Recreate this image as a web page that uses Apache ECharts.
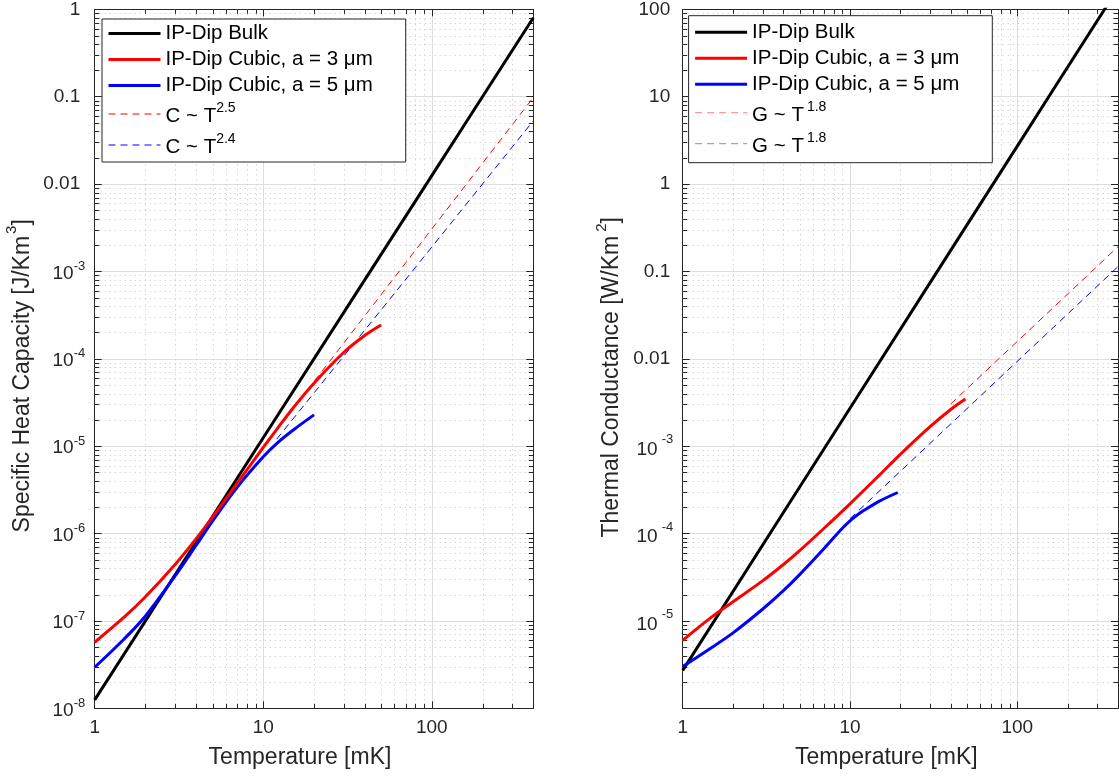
<!DOCTYPE html>
<html>
<head>
<meta charset="utf-8">
<script src="https://cdn.jsdelivr.net/npm/echarts@6/dist/echarts.min.js"></script>
<style>html,body{margin:0;padding:0;background:#fff}#c{width:1119px;height:776px}</style>
</head>
<body>
<div id="c"></div>
<script>
// ---------------- data ----------------
// Left panel: specific heat capacity C [J/K m^3] vs temperature T [mK]
const T_C_BULK = [1, 10, 100, 400];
const C_BULK   = [1.25e-8, 1.25e-5, 1.25e-2, 0.8];
const T_C_A3 = [1, 1.5, 2, 3, 4, 5, 7, 10, 12, 15, 20, 30, 40, 50];
const C_A3   = [5.7e-8, 1.11e-7, 1.89e-7, 4.43e-7, 8.73e-7, 1.54e-6, 3.76e-6, 9.68e-6, 1.55e-5, 2.72e-5, 5.26e-5, 1.18e-4, 1.85e-4, 2.44e-4];
const T_C_A5 = [1, 1.5, 2, 3, 4, 5, 7, 10, 12, 15, 20];
const C_A5   = [2.95e-8, 6.25e-8, 1.14e-7, 3.28e-7, 7.35e-7, 1.39e-6, 3.38e-6, 7.55e-6, 1.07e-5, 1.52e-5, 2.28e-5];
const T_C_FIT3 = [10, 100, 400];
const C_FIT3   = [9.7e-6, 3.06e-3, 0.098];
const T_C_FIT5 = [12, 100, 400];
const C_FIT5   = [1.2e-5, 1.9e-3, 0.053];

// Right panel: thermal conductance G [W/K m^2] vs temperature T [mK]
const T_G_BULK = [1, 10, 100, 400];
const G_BULK   = [2.72e-6, 2.72e-3, 2.72, 174];
const T_G_A3 = [1, 1.5, 2, 3, 4, 5, 7, 10, 15, 20, 30, 40, 49];
const G_A3   = [6.0e-6, 1.12e-5, 1.66e-5, 2.87e-5, 4.42e-5, 6.38e-5, 1.15e-4, 2.19e-4, 4.67e-4, 8.07e-4, 1.66e-3, 2.63e-3, 3.46e-3];
const T_G_A5 = [1, 1.5, 2, 3, 4, 5, 7, 8, 9, 10, 11, 12, 15, 19.3];
const G_A5   = [3.0e-6, 5.0e-6, 7.3e-6, 1.36e-5, 2.22e-5, 3.39e-5, 6.75e-5, 8.99e-5, 1.15e-4, 1.40e-4, 1.62e-4, 1.82e-4, 2.35e-4, 2.95e-4];
const T_G_FIT3 = [40, 100, 400];
const G_FIT3   = [3.04e-3, 1.58e-2, 0.192];
const T_G_FIT5 = [10, 100, 400];
const G_FIT5   = [1.48e-4, 9.35e-3, 0.1135];

// axes / ticks
const X_RANGE = [1, 400];
const C_RANGE = [1e-8, 1];
const G_RANGE = [1e-6, 100];
const X_DECADES = [0, 1, 2];
const C_DECADES = [-8, -7, -6, -5, -4, -3, -2, -1];
const G_DECADES = [-6, -5, -4, -3, -2, -1, 0, 1];
const MINOR_MULT = [2, 3, 4, 5, 6, 7, 8, 9];
const PLAIN_LABELS = {'2': '100', '1': '10', '0': '1', '-1': '0.1', '-2': '0.01'};
const G_HIDDEN_EXP = [-6];

const LEG_C = ['IP-Dip Bulk', 'IP-Dip Cubic, a = 3 μm', 'IP-Dip Cubic, a = 5 μm', 'C ~ T^2.5', 'C ~ T^2.4'];
const LEG_G = ['IP-Dip Bulk', 'IP-Dip Cubic, a = 3 μm', 'IP-Dip Cubic, a = 5 μm', 'G ~ T^1.8 (a = 3 μm)', 'G ~ T^1.8 (a = 5 μm)'];

// ---------------- styling ----------------
const FONT = '"Liberation Sans", Arial, Helvetica, sans-serif';
const AX = '#262626';
const GRID_MAJOR = '#dedede';
const GRID_MINOR = '#c4c4c4';
const RED = '#ff0000', BLUE = '#0000ff', BLACK = '#000000';

function zip(xs, ys) { return xs.map((x, i) => [x, ys[i]]); }
function minorVals(decades, max) {
  const out = [];
  decades.forEach(d => MINOR_MULT.forEach(m => { const v = m * Math.pow(10, d); if (v < max * 0.999) out.push(v); }));
  return out;
}
function isPow10(v) { const e = Math.round(Math.log10(v)); return Math.abs(v / Math.pow(10, e) - 1) < 1e-6 ? e : null; }
function xFmt(v) { const e = isPow10(v); return (e === null || PLAIN_LABELS[e] === undefined) ? '' : PLAIN_LABELS[e]; }
function yFmt(hidden) {
  return function (v) {
    const e = isPow10(v);
    if (e === null || hidden.indexOf(e) >= 0) return '';
    if (PLAIN_LABELS[e] !== undefined) return '{p|' + PLAIN_LABELS[e] + '}';
    return '{b|10}{s|' + e + '}';
  };
}
function tok(o) { return Object.assign({color: AX, fontFamily: FONT}, o); }
// superscript: line height of the 's' token sets the line box; 's' sits at top, base text at bottom
const RICH_YL = {
  p: tok({fontSize: 19, lineHeight: 19, padding: [0, 5, 0, 0]}),
  b: tok({fontSize: 19, lineHeight: 19, verticalAlign: 'bottom'}),
  s: tok({fontSize: 13, lineHeight: 23, verticalAlign: 'top'})
};
const RICH_YR = {
  p: tok({fontSize: 19, lineHeight: 19, padding: [0, 3, 0, 0]}),
  b: tok({fontSize: 19, lineHeight: 19, verticalAlign: 'bottom'}),
  s: tok({fontSize: 13, lineHeight: 26, verticalAlign: 'top', padding: [0, 0, 0, 4]})
};

const axisLine = {show: true, onZero: false, lineStyle: {color: AX, width: 1}};
const axisTick = {show: true, inside: true, length: 7, lineStyle: {color: AX, width: 1}};

function xMain(gi) {
  return {
    gridIndex: gi, type: 'log', logBase: 10, min: X_RANGE[0], max: X_RANGE[1], position: 'bottom',
    axisLine, axisTick,
    axisLabel: {margin: 10, fontSize: 19, lineHeight: 19, color: AX, fontFamily: FONT, formatter: xFmt},
    splitLine: {show: true, lineStyle: {color: GRID_MAJOR, width: 1}},
    name: 'Temperature [mK]', nameLocation: 'middle', nameGap: 38, nameMoveOverlap: false,
    nameTextStyle: {fontSize: 23, lineHeight: 23, color: AX, fontFamily: FONT, padding: [0, 28, 0, 0]}
  };
}
function xMirror(gi) {
  return {
    gridIndex: gi, type: 'log', logBase: 10, min: X_RANGE[0], max: X_RANGE[1], position: 'top',
    axisLine, axisTick, axisLabel: {show: false}, splitLine: {show: false}
  };
}
function yMain(gi, range, hidden, rich, name, supText, nameGap, shift) {
  return {
    gridIndex: gi, type: 'log', logBase: 10, min: range[0], max: range[1], position: 'left',
    axisLine, axisTick,
    axisLabel: {margin: 9.5, color: AX, fontFamily: FONT, formatter: yFmt(hidden), rich},
    splitLine: {show: true, lineStyle: {color: GRID_MAJOR, width: 1}},
    name: '{t|' + name + '}{s|' + supText + '}{t|]}', nameLocation: 'middle', nameGap, nameMoveOverlap: false,
    nameTextStyle: {color: AX, fontFamily: FONT, padding: [0, shift, 0, 0], rich: {
      t: tok({fontSize: 23, lineHeight: 23, verticalAlign: 'bottom'}),
      s: tok({fontSize: 15, lineHeight: 29, verticalAlign: 'top', padding: [0, 0, 0, gi === 0 ? 2 : 4]})
    }}
  };
}
function yMirror(gi, range) {
  return {
    gridIndex: gi, type: 'log', logBase: 10, min: range[0], max: range[1], position: 'right',
    axisLine, axisTick, axisLabel: {show: false}, splitLine: {show: false}
  };
}

function minorYRender(params, api) {
  const cs = params.coordSys;
  const y = Math.round(api.coord([api.value(0), api.value(1)])[1]) + 0.5;
  const x0 = cs.x, x1 = cs.x + cs.width;
  return {type: 'group', children: [
    {type: 'line', shape: {x1: x0, y1: y, x2: x1, y2: y}, style: {stroke: GRID_MINOR, lineWidth: 1, lineDash: [1, 4]}},
    {type: 'line', shape: {x1: x0, y1: y, x2: x0 + 4.5, y2: y}, style: {stroke: AX, lineWidth: 1}},
    {type: 'line', shape: {x1: x1 - 4.5, y1: y, x2: x1, y2: y}, style: {stroke: AX, lineWidth: 1}}
  ]};
}
function minorXRender(params, api) {
  const cs = params.coordSys;
  const x = Math.round(api.coord([api.value(0), api.value(1)])[0]) + 0.5;
  const y0 = cs.y, y1 = cs.y + cs.height;
  return {type: 'group', children: [
    {type: 'line', shape: {x1: x, y1: y0, x2: x, y2: y1}, style: {stroke: GRID_MINOR, lineWidth: 1, lineDash: [1, 4]}},
    {type: 'line', shape: {x1: x, y1: y1, x2: x, y2: y1 - 4.5}, style: {stroke: AX, lineWidth: 1}},
    {type: 'line', shape: {x1: x, y1: y0, x2: x, y2: y0 + 4.5}, style: {stroke: AX, lineWidth: 1}}
  ]};
}
function minorSeries(gi, yr, yDecades) {
  const xi = gi * 2, yi = gi * 2;
  return [
    {type: 'custom', xAxisIndex: xi, yAxisIndex: yi, silent: true, z: 1, renderItem: minorYRender,
     data: minorVals(yDecades, yr[1]).map(v => [X_RANGE[0], v])},
    {type: 'custom', xAxisIndex: xi, yAxisIndex: yi, silent: true, z: 1, renderItem: minorXRender,
     data: minorVals(X_DECADES, X_RANGE[1]).map(v => [v, yr[0]])}
  ];
}
function line(name, gi, data, color, width, dashed) {
  return {
    type: 'line', name, xAxisIndex: gi * 2, yAxisIndex: gi * 2, data, symbol: 'none', showSymbol: false,
    smooth: dashed ? false : 0.35, silent: true, z: dashed ? 2 : 3, clip: true,
    lineStyle: {color, width, type: dashed ? [7, 5] : 'solid'}, itemStyle: {color}
  };
}

function legendFmt(name) {
  const clean = name.replace(/ \(a = \d μm\)$/, '');
  const k = clean.indexOf('^');
  if (k < 0) return '{m|' + clean + '}';
  return '{n|' + clean.slice(0, k) + '}{s|' + clean.slice(k + 1) + '}';
}
function legend(gi, names, left, top, dashColors, padTop, gap) {
  const legTok = o => Object.assign({color: '#000', fontFamily: FONT}, o);
  return {
    show: true, orient: 'vertical', left, top, padding: [padTop, 33, padTop, 5], itemGap: gap,
    itemWidth: 52, itemHeight: 14, backgroundColor: '#ffffff', borderColor: AX, borderWidth: 1,
    selectedMode: false, formatter: legendFmt,
    textStyle: {fontSize: 20.5, color: '#000', fontFamily: FONT, rich: {
      m: legTok({fontSize: 20.5, lineHeight: 20}),
      n: legTok({fontSize: 20.5, lineHeight: 20, verticalAlign: 'bottom'}),
      s: legTok({fontSize: 14, lineHeight: 26, verticalAlign: 'top', padding: [0, 0, 0, gi === 0 ? 0 : 3]})
    }},
    data: names.map((n, i) => i < 3 ? {name: n, lineStyle: {width: 3}, itemStyle: {opacity: 0}} :
      {name: n, lineStyle: {width: 1, color: dashColors[i - 3]}, itemStyle: {opacity: 0}})
  };
}

const option = {
  animation: false,
  backgroundColor: '#ffffff',
  grid: [
    {left: 94.7, top: 9.3, width: 438.6, height: 699, containLabel: false, outerBoundsMode: 'none'},
    {left: 682.7, top: 9.3, width: 435.3, height: 699, containLabel: false, outerBoundsMode: 'none'}
  ],
  xAxis: [xMain(0), xMirror(0), xMain(1), xMirror(1)],
  yAxis: [
    yMain(0, C_RANGE, [], RICH_YL, 'Specific Heat Capacity [J/Km', '3', 61, 34),
    yMirror(0, C_RANGE),
    yMain(1, G_RANGE, G_HIDDEN_EXP, RICH_YR, 'Thermal Conductance [W/Km', '2', 59.5, 37),
    yMirror(1, G_RANGE)
  ],
  legend: [
    legend(0, LEG_C, 102, 19, [RED, BLUE], 4, 5),
    legend(1, LEG_G, 688.6, 15.7, ['#ff8080', '#8080ff'], 6, 5)
  ],
  series: [].concat(
    minorSeries(0, C_RANGE, C_DECADES),
    minorSeries(1, G_RANGE, G_DECADES),
    [
      line(LEG_C[3], 0, zip(T_C_FIT3, C_FIT3), RED, 1, true),
      line(LEG_C[4], 0, zip(T_C_FIT5, C_FIT5), BLUE, 1, true),
      line(LEG_C[0], 0, zip(T_C_BULK, C_BULK), BLACK, 3, false),
      line(LEG_C[2], 0, zip(T_C_A5, C_A5), BLUE, 3, false),
      line(LEG_C[1], 0, zip(T_C_A3, C_A3), RED, 3, false),
      line(LEG_G[3], 1, zip(T_G_FIT3, G_FIT3), RED, 1, true),
      line(LEG_G[4], 1, zip(T_G_FIT5, G_FIT5), BLUE, 1, true),
      line(LEG_G[0], 1, zip(T_G_BULK, G_BULK), BLACK, 3, false),
      line(LEG_G[2], 1, zip(T_G_A5, G_A5), BLUE, 3, false),
      line(LEG_G[1], 1, zip(T_G_A3, G_A3), RED, 3, false)
    ]
  )
};

const chart = echarts.init(document.getElementById('c'), null, {renderer: 'canvas'});
chart.setOption(option);
</script>
</body>
</html>
